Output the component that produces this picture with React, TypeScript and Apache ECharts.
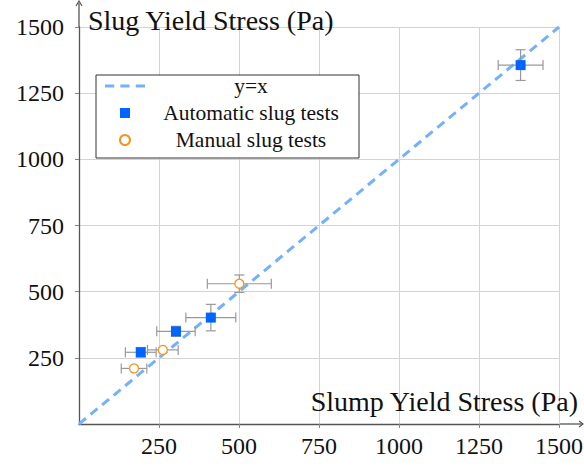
import React, { useEffect, useRef } from "react";
import * as echarts from "echarts";

const axisTicks = [0, 250, 500, 750, 1000, 1250, 1500];
const identityLine = [[0, 0], [1500, 1500]];
const autoSlump = [193, 303, 412, 1380];
const autoSlug = [271, 350, 402, 1356];
const autoSlumpErr = [48, 60, 78, 70];
const autoSlugErr = [18, 19, 50, 58];
const manualSlump = [172, 262, 501];
const manualSlug = [210, 280, 530];
const manualSlumpErr = [40, 48, 100];
const manualSlugErr = [0, 0, 33];

const FONT = "'Liberation Serif', 'Times New Roman', serif";
const AXIS_COLOR = "#555";
const LINE_BLUE = "#73b1fa";

function errRows(xs: number[], ys: number[], ex: number[], ey: number[]) {
  return xs.map((x, i) => [x, ys[i], ex[i], ey[i]]);
}

function errorBarRender(params: any, api: any) {
  const x = api.value(0);
  const y = api.value(1);
  const ex = api.value(2);
  const ey = api.value(3);
  const cap = 5;
  const style = { stroke: "#999", lineWidth: 1.2 };
  const children: any[] = [];
  if (ex > 0) {
    const l = api.coord([x - ex, y]);
    const r = api.coord([x + ex, y]);
    children.push({ type: "line", shape: { x1: l[0], y1: l[1], x2: r[0], y2: r[1] }, style });
    children.push({ type: "line", shape: { x1: l[0], y1: l[1] - cap, x2: l[0], y2: l[1] + cap }, style });
    children.push({ type: "line", shape: { x1: r[0], y1: r[1] - cap, x2: r[0], y2: r[1] + cap }, style });
  }
  if (ey > 0) {
    const t = api.coord([x, y + ey]);
    const b = api.coord([x, y - ey]);
    children.push({ type: "line", shape: { x1: t[0], y1: t[1], x2: b[0], y2: b[1] }, style });
    children.push({ type: "line", shape: { x1: t[0] - cap, y1: t[1], x2: t[0] + cap, y2: t[1] }, style });
    children.push({ type: "line", shape: { x1: b[0] - cap, y1: b[1], x2: b[0] + cap, y2: b[1] }, style });
  }
  return { type: "group", children };
}

export default function App() {
  const ref = useRef<HTMLDivElement>(null);
  useEffect(() => {
    if (!ref.current) return;
    const chart = echarts.init(ref.current, undefined, { renderer: "svg" });
    const axisCommon = {
      type: "value",
      min: axisTicks[0],
      max: axisTicks[axisTicks.length - 1],
      interval: axisTicks[1] - axisTicks[0],
      axisLine: { show: true, onZero: false, lineStyle: { color: AXIS_COLOR, width: 1.3 } },
      axisTick: { show: true, length: 4, lineStyle: { color: "#888" } },
      splitLine: { show: true, lineStyle: { color: "#d3d3d3", width: 1 } },
      axisLabel: {
        showMinLabel: false,
        fontFamily: FONT,
        fontSize: 24,
        color: "#111",
        formatter: (v: number) => String(v),
      },
    };
    chart.setOption({
      animation: false,
      backgroundColor: "#fff",
      grid: {
        left: 79,
        right: 25,
        top: 27,
        bottom: 44,
        containLabel: false,
        outerBoundsMode: "none",
      },
      xAxis: {
        ...axisCommon,
        axisLabel: { ...axisCommon.axisLabel, margin: 10 },
      },
      yAxis: {
        ...axisCommon,
        name: "Slug Yield Stress (Pa)",
        nameLocation: "end",
        nameGap: 7,
        nameTextStyle: {
          fontFamily: FONT,
          fontSize: 28,
          color: "#111",
          align: "left",
          verticalAlign: "middle",
          padding: [0, 0, 0, 9],
        },
        axisLabel: { ...axisCommon.axisLabel, margin: 15 },
      },
      legend: {
        orient: "vertical",
        left: 96,
        top: 75,
        padding: [0, 7, 7, 9],
        itemGap: 5,
        itemWidth: 40,
        itemHeight: 10,
        symbolKeepAspect: true,
        borderColor: "#333",
        borderWidth: 1,
        borderRadius: 0,
        backgroundColor: "#fff",
        data: [
          { name: "y=x", icon: "path://M0,0h9v3h-9z M15,0h9v3h-9z M30,0h9v3h-9z" },
          { name: "Automatic slug tests", icon: "path://M0,0h10v10h-10z" },
          { name: "Manual slug tests", icon: "circle" },
        ],
        formatter: (n: string) => `{c|${n}}`,
        textStyle: {
          lineHeight: 20,
          fontSize: 21.5,
          fontFamily: FONT,
          rich: {
            c: {
              width: 202,
              height: 20,
              align: "center",
              fontFamily: FONT,
              fontSize: 21.5,
              color: "#111",
              lineHeight: 20,
            },
          },
        },
      },
      graphic: [
        {
          type: "text",
          right: 5,
          top: 387,
          style: {
            text: "Slump Yield Stress (Pa)",
            fontFamily: FONT,
            fontSize: 28,
            fill: "#111",
          },
          z: 10,
        },
        {
          type: "line",
          shape: { x1: 559, y1: 424, x2: 582, y2: 424 },
          style: { stroke: AXIS_COLOR, lineWidth: 1.3 },
        },
        {
          type: "polyline",
          shape: { points: [[579, 421], [583, 424], [579, 427]] },
          style: { stroke: AXIS_COLOR, lineWidth: 1.2, fill: "none" },
        },
        {
          type: "line",
          shape: { x1: 79, y1: 27, x2: 79, y2: 3 },
          style: { stroke: AXIS_COLOR, lineWidth: 1.3 },
        },
        {
          type: "polyline",
          shape: { points: [[76, 6], [79, 1], [82, 6]] },
          style: { stroke: AXIS_COLOR, lineWidth: 1.2, fill: "none" },
        },
      ],
      series: [
        {
          name: "y=x",
          type: "line",
          data: identityLine,
          symbol: "none",
          lineStyle: { color: LINE_BLUE, width: 3, type: [9, 6] },
          itemStyle: { color: LINE_BLUE },
          z: 2,
        },
        {
          name: "autoErr",
          type: "custom",
          renderItem: errorBarRender,
          data: errRows(autoSlump, autoSlug, autoSlumpErr, autoSlugErr),
          z: 3,
        },
        {
          name: "manualErr",
          type: "custom",
          renderItem: errorBarRender,
          data: errRows(manualSlump, manualSlug, manualSlumpErr, manualSlugErr),
          z: 3,
        },
        {
          name: "Automatic slug tests",
          type: "scatter",
          data: autoSlump.map((x, i) => [x, autoSlug[i]]),
          symbol: "rect",
          symbolSize: 10,
          itemStyle: { color: "#0064ff", opacity: 1 },
          z: 5,
        },
        {
          name: "Manual slug tests",
          type: "scatter",
          data: manualSlump.map((x, i) => [x, manualSlug[i]]),
          symbol: "circle",
          symbolSize: 9,
          itemStyle: { color: "#fff", borderColor: "#f7941d", borderWidth: 1.3, opacity: 1 },
          z: 5,
        },
      ],
    });
    return () => chart.dispose();
  }, []);
  return <div ref={ref} style={{ width: 584, height: 468, position: "absolute", left: 0, top: 0 }} />;
}
